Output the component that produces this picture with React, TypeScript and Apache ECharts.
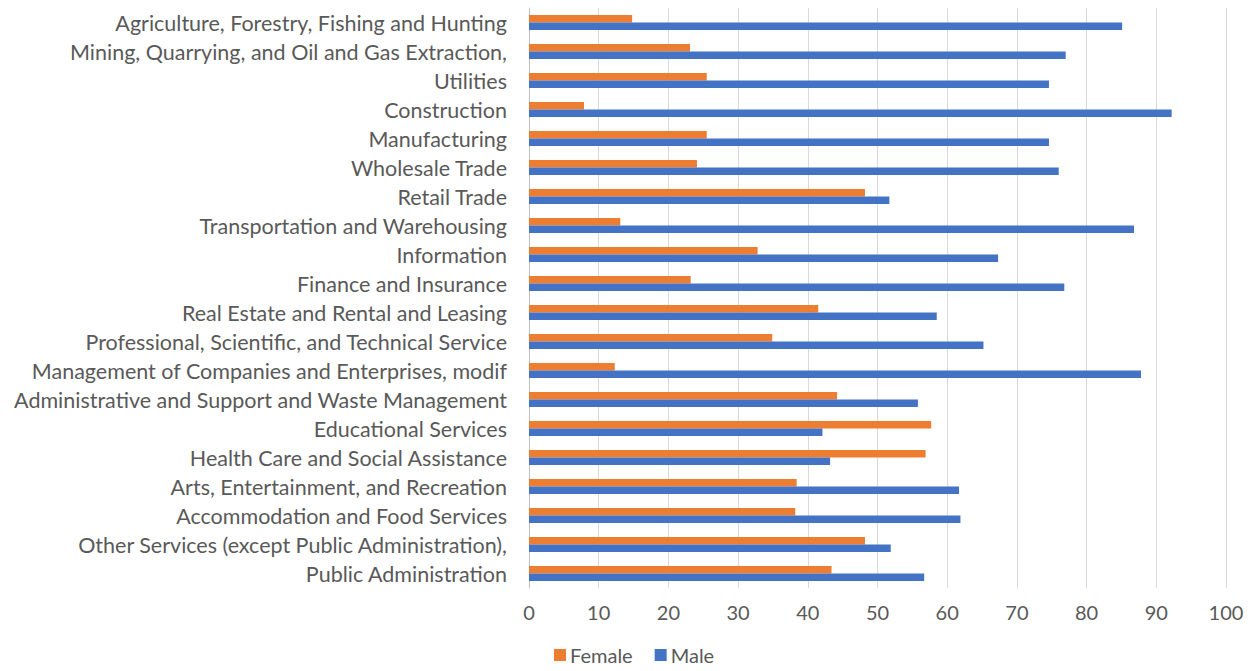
import React, { useEffect, useRef } from "react";
import * as echarts from "echarts";

const categories = [
  "Agriculture, Forestry, Fishing and Hunting",
  "Mining, Quarrying, and Oil and Gas Extraction,",
  "Utilities",
  "Construction",
  "Manufacturing",
  "Wholesale Trade",
  "Retail Trade",
  "Transportation and Warehousing",
  "Information",
  "Finance and Insurance",
  "Real Estate and Rental and Leasing",
  "Professional, Scientific, and Technical Service",
  "Management of Companies and Enterprises, modif",
  "Administrative and Support and Waste Management",
  "Educational Services",
  "Health Care and Social Assistance",
  "Arts, Entertainment, and Recreation",
  "Accommodation and Food Services",
  "Other Services (except Public Administration),",
  "Public Administration",
];

const female = [14.8, 23.1, 25.5, 7.9, 25.5, 24.1, 48.2, 13.1, 32.8, 23.2, 41.5, 34.9, 12.3, 44.2, 57.7, 56.9, 38.4, 38.2, 48.2, 43.4];
const male = [85.1, 77.0, 74.6, 92.2, 74.6, 76.0, 51.7, 86.8, 67.3, 76.8, 58.5, 65.2, 87.8, 55.8, 42.1, 43.2, 61.7, 61.9, 51.9, 56.7];

const FONT = "Lato";
const TEXT = "#595959";

export default function App() {
  const ref = useRef<HTMLDivElement>(null);
  useEffect(() => {
    if (!ref.current) return;
    const chart = echarts.init(ref.current, undefined, { renderer: "svg" });
    chart.setOption({
      animation: false,
      backgroundColor: "#ffffff",
      textStyle: { fontFamily: FONT },
      grid: { left: 529, right: 27, top: 8, bottom: 83, containLabel: false },
      legend: {
        bottom: 1,
        left: 549,
        icon: "rect",
        itemWidth: 12,
        itemHeight: 12,
        itemGap: 22,
        itemStyle: { borderWidth: 0 },
        textStyle: { color: TEXT, fontSize: 20, fontFamily: FONT, padding: [0, 0, 0, -1] },
        data: ["Female", "Male"],
      },
      xAxis: {
        type: "value",
        min: 0,
        max: 100,
        interval: 10,
        axisLine: { show: false },
        axisTick: { show: false },
        axisLabel: { color: TEXT, fontSize: 20, fontFamily: FONT, margin: 14 },
        splitLine: { show: true, lineStyle: { color: "#D9D9D9", width: 1 } },
      },
      yAxis: {
        type: "category",
        inverse: true,
        data: categories,
        axisLine: { show: true, lineStyle: { color: "#BFBFBF", width: 1 } },
        axisTick: { show: false },
        axisLabel: { color: TEXT, fontSize: 21.5, fontFamily: FONT, margin: 22, padding: [0, 0, 3, 0] },
      },
      series: [
        {
          name: "Female",
          type: "bar",
          data: female,
          barWidth: 7.5,
          barGap: "0%",
          itemStyle: { color: "#ED7D31" },
        },
        {
          name: "Male",
          type: "bar",
          data: male,
          barWidth: 7.5,
          barGap: "0%",
          itemStyle: { color: "#4472C4" },
        },
      ],
    });
    return () => chart.dispose();
  }, []);
  return <div ref={ref} style={{ width: 1253, height: 671, position: "absolute", left: 0, top: 0 }} />;
}
